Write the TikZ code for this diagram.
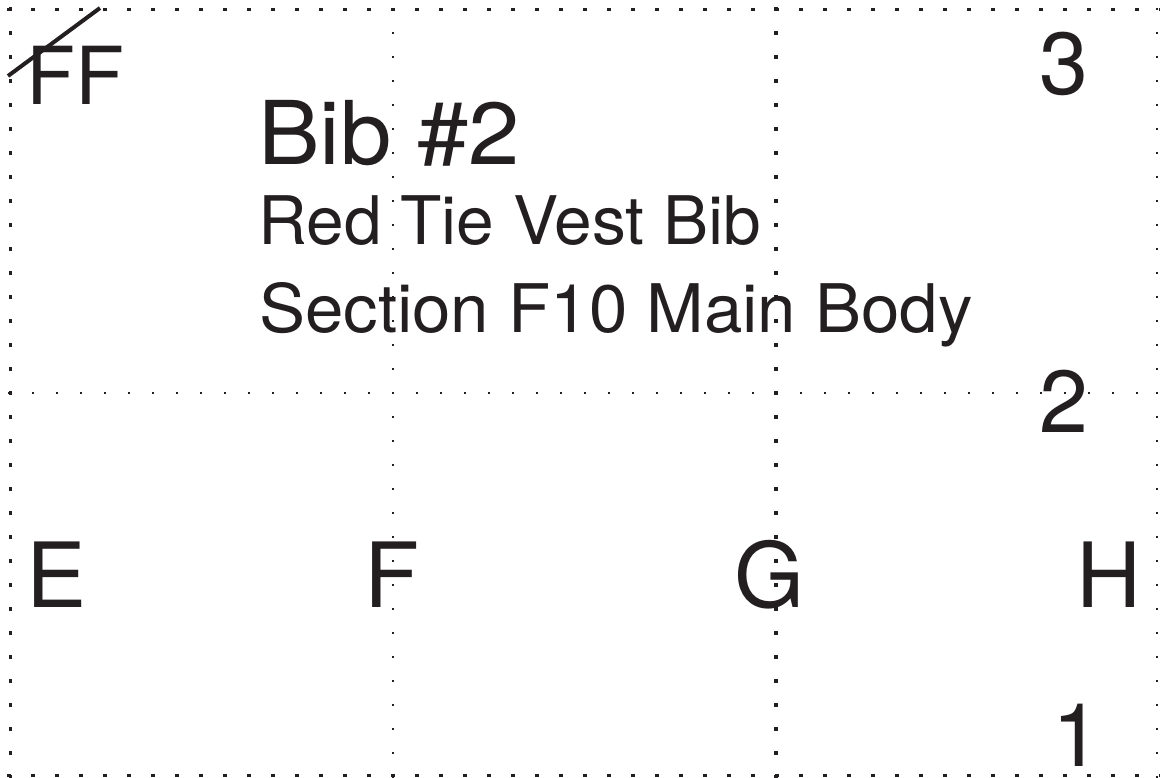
\documentclass[tikz,border=0pt]{standalone}
\usepackage{fontspec}
\setmainfont{TeX Gyre Heros}
\definecolor{ink}{HTML}{231F20}
\begin{document}
\begin{tikzpicture}[x=1pt, y=-1pt,
    gridline/.style={ink, line width=2.2pt, dash pattern=on 2.2pt off 21.8pt},
    edgeline/.style={ink, line width=3pt, dash pattern=on 4pt off 20pt},
    heavyline/.style={ink, line width=4.5pt, dash pattern=on 4.5pt off 19.5pt},
    big/.style={anchor=base west, inner sep=0pt, text=ink, font=\fontsize{90}{90}\selectfont},
    title/.style={anchor=base west, inner sep=0pt, text=ink, font=\fontsize{88}{88}\selectfont},
    sub/.style={anchor=base west, inner sep=0pt, text=ink, font=\fontsize{67}{67}\selectfont}]
    \useasboundingbox (0,0) rectangle (1160,778);

    % dotted grid, rows
    \draw[edgeline] (7,10) -- (1160,10);
    \draw[gridline] (7.9,393) -- (1160,393);
    \draw[edgeline] (7,775) -- (1160,775);
    % dotted grid, columns
    \draw[edgeline] (10,7) -- (10,778);
    \draw[gridline] (393,7.9) -- (393,778);
    \draw[heavyline] (776,6.75) -- (776,778);
    \draw[gridline] (1157,7.9) -- (1157,778);

    % crossed out tag
    \node[anchor=base west, inner sep=0pt, text=ink, font=\fontsize{80}{80}\selectfont] (ff) at (26,105) {FF};
    \coordinate (strike a) at (8,76);
    \coordinate (strike b) at (100,8);
    \draw[ink, line width=4pt] (strike a) -- (strike b);

    % heading
    \node[title] (bibno) at (258,165) {\scalebox{1.05}[1]{Bib \#2}};
    \node[sub] (bibname) at (258,245) {\scalebox{1.01}[1]{Red Tie Vest Bib}};
    \node[sub] (bibpart) at (259,332) {\scalebox{1.03}[1]{Section F10 Main Body}};

    % row numbers
    \node[title] (row3) at (1039,95) {3};
    \node[title] (row2) at (1039,432) {2};
    \node[title] (row1) at (1052,766) {1};

    % column letters
    \node[big] (colE) at (26,607) {E};
    \node[big] (colF) at (364,607) {F};
    \node[big] (colG) at (734,607) {G};
    \node[big] (colH) at (1076,607) {H};
\end{tikzpicture}
\end{document}
